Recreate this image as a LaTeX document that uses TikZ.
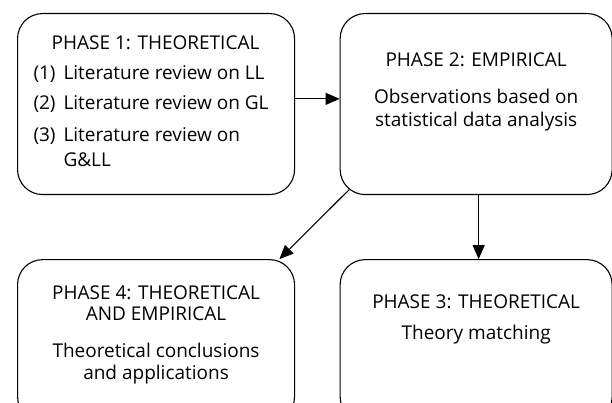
\documentclass[tikz,border=0pt]{standalone}
\usepackage{fontspec}
\setmainfont{Open Sans}
\usepackage{tikz}
\usetikzlibrary{positioning, calc, arrows.meta}

\begin{document}
\begin{tikzpicture}[node distance = 64pt and 44.5pt,
    box/.style={draw, rectangle, rounded corners=25pt, line width=1.1pt, inner sep=0pt},
    txt/.style={inner sep=0pt},
    arrow/.style={-{Triangle[length=14pt, width=12pt]}, line width=1.1pt}]
        \useasboundingbox (0,0) rectangle (612pt,-403pt);
        \clip (0,0) rectangle (612pt,-403pt);

        % Boxes
        \node[box, anchor=north west, minimum width=277pt, minimum height=181pt] (ph1) at (17pt,-13pt) {};
        \node[box, right=of ph1, minimum width=272pt, minimum height=181pt] (ph2) {};
        \node[box, below=of ph1, minimum width=277pt, minimum height=162pt] (ph4) {};
        \node[box, below=of ph2, minimum width=272pt, minimum height=162pt] (ph3) {};

        % Texts
        \node[txt, below right=37pt and 16.3pt of ph1.north west, anchor=base west] (ph1text) {%
          \fontsize{19}{25}\selectfont
          \begin{tabular}[t]{@{}p{30pt}@{}p{214pt}@{}}
            \multicolumn{2}{@{}c@{}}{PHASE 1: THEORETICAL}\\[5pt]
            (1) & Literature review on LL\\[5pt]
            (2) & Literature review on GL\\[6.5pt]
            (3) & Literature review on\\
                & G\&LL
          \end{tabular}};
        \node[txt, below=54pt of ph2.north, anchor=base] (ph2text) {%
          \fontsize{19}{23.3}\selectfont
          \begin{tabular}[t]{@{}c@{}}
            PHASE 2: EMPIRICAL\\[13pt]
            Observations based on\\
            statistical data analysis
          \end{tabular}};
        \node[txt, below=49.5pt of ph3.north, anchor=base] (ph3text) {%
          \fontsize{19}{30.5}\selectfont
          \begin{tabular}[t]{@{}c@{}}
            PHASE 3: THEORETICAL\\
            Theory matching
          \end{tabular}};
        \node[txt, below=40pt of ph4.north, anchor=base] (ph4text) {%
          \fontsize{19}{21.7}\selectfont
          \begin{tabular}[t]{@{}c@{}}
            PHASE 4: THEORETICAL\\
            AND EMPIRICAL\\[15pt]
            Theoretical conclusions\\
            and applications
          \end{tabular}};

        % Arrows
        \draw[arrow] ([yshift=5.2pt]ph1.east) -- ([yshift=5.2pt]ph1.east -| ph2.west);
        \draw[arrow] ([xshift=2.5pt]ph2.south) -- ([xshift=2.5pt]ph3.north);
        \draw[arrow] ([shift={(9.8pt,5.7pt)}]ph2.south west) -- ([xshift=-15.7pt]ph4.north east);
    \end{tikzpicture}
\end{document}
